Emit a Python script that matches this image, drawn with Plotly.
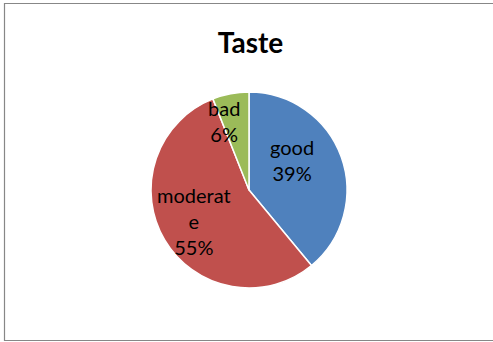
import math
import plotly.graph_objects as go

categories = ["good", "moderate", "bad"]
values = [39, 55, 6]
display_labels = ["good", "moderat<br>e", "bad"]
colors = ["#4F81BD", "#C0504D", "#9BBB59"]

# label placement style (angular nudge in degrees, radial fraction of radius)
label_nudge = [-15, 1, -9]
label_radius = [0.53, 0.65, 0.75]

W, H = 493, 342
cx, cy, r = 249, 190, 98

fig = go.Figure(go.Pie(
    labels=categories,
    values=values,
    textinfo="none",
    sort=False,
    direction="clockwise",
    rotation=0,
    marker=dict(colors=colors, line=dict(color="white", width=1.5)),
    showlegend=False,
    hoverinfo="label+percent",
    domain=dict(x=[(cx - r) / W, (cx + r) / W], y=[(H - cy - r) / H, (H - cy + r) / H]),
))

total = sum(values)
annotations = []
cum = 0
for lab, v, nudge, rf in zip(display_labels, values, label_nudge, label_radius):
    mid = (cum + v / 2) / total * 360 + nudge
    cum += v
    px = cx + rf * r * math.sin(math.radians(mid))
    py = cy - rf * r * math.cos(math.radians(mid))
    annotations.append(dict(
        text=f"{lab}<br>{round(v / total * 100)}%",
        x=px / W, y=1 - py / H, xref="paper", yref="paper",
        xanchor="center", yanchor="middle", showarrow=False,
        font=dict(family="Lato", size=20, color="black"),
    ))

fig.update_layout(
    width=W, height=H,
    margin=dict(l=0, r=0, t=0, b=0),
    paper_bgcolor="white",
    title=dict(text="<b>Taste</b>", x=250.5 / W, xanchor="center", y=1 - 43 / H, yanchor="middle",
               font=dict(family="Lato", size=28, color="black")),
    annotations=annotations,
    shapes=[dict(type="rect", xref="paper", yref="paper",
                 x0=4.5 / W, x1=1.02, y0=(H - 340.5) / H, y1=(H - 3.5) / H,
                 line=dict(color="#878787", width=1.2), fillcolor="rgba(0,0,0,0)")],
)

fig.write_html("out.html", config={"displayModeBar": False},
               post_script="document.body.style.margin='0';document.body.style.overflow='hidden';")
